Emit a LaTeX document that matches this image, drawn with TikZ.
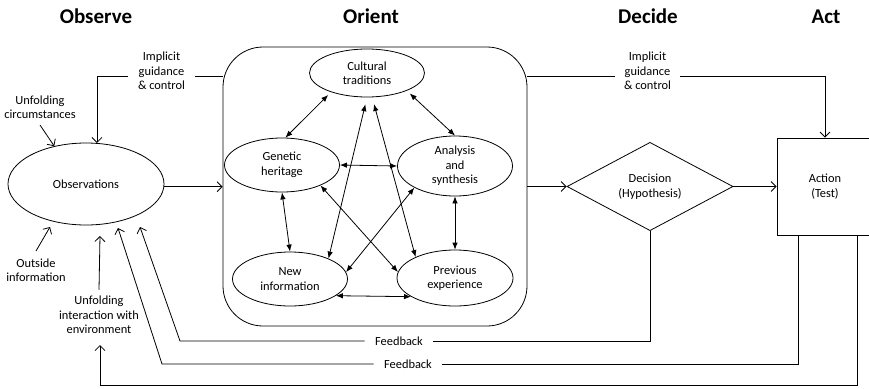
\documentclass[tikz,border=0pt]{standalone}
\usepackage{fontspec}
\setmainfont{Carlito}
\usetikzlibrary{arrows.meta,shapes.geometric,calc}
\begin{document}
\begin{tikzpicture}[x=1pt,y=-1pt,line width=0.8pt,
  lbl/.style={font=\fontsize{12.4}{14.5}\selectfont,align=center,inner sep=0pt},
  ttl/.style={font=\fontsize{21}{24}\selectfont\bfseries,anchor=base,inner sep=0pt},
  oval/.style={ellipse,draw,lbl},
  open/.style={-{Straight Barb[length=5pt,width=10pt]}},
  dbl/.style={{Latex[length=7pt,width=5.5pt]}-{Latex[length=7pt,width=5.5pt]}},
  gaplbl/.style={lbl,minimum height=12pt}]
\useasboundingbox (0,0) rectangle (869,388);
\clip (0,0) rectangle (869,388);

% titles
\node[ttl] (tObs) at (96,23) {Observe};
\node[ttl] (tOri) at (371,23) {Orient};
\node[ttl] (tDec) at (648,23) {Decide};
\node[ttl] (tAct) at (826,23) {Act};

% main nodes
\node[oval,minimum width=156,minimum height=82] (obs) at (86,184) {Observations};
\node[draw,rounded corners=40,minimum width=304,minimum height=279,inner sep=0pt] (orient) at (375,186.5) {};
\node[oval,minimum width=115,minimum height=48] (ct) at (367,73) {Cultural\\traditions};
\node[oval,minimum width=115,minimum height=54] (gh) at (282,165) {Genetic\\heritage};
\node[oval,minimum width=115,minimum height=60] (as) at (455,166) {Analysis\\and\\synthesis};
\node[oval,minimum width=115,minimum height=54] (ni) at (290,279) {New\\information};
\node[oval,minimum width=116,minimum height=56] (pe) at (455,278) {Previous\\experience};
\node[diamond,draw,lbl,minimum width=166,minimum height=81] (dec) at (650,186.5) {Decision\\(Hypothesis)};
\node[draw,lbl,minimum width=96,minimum height=97] (act) at (825,186.5) {Action\\(Test)};

% orient internal links
\draw[dbl,shorten <=4pt] (ct.208) -- (gh.83);
\draw[dbl,shorten <=4pt] (ct.336) -- (as.90);
\draw[dbl] (gh.east) -- (as.west);
\draw[dbl] (gh.270) -- (ni.90);
\draw[dbl] (as.270) -- (pe.90);
\draw[dbl] (ni.-20) -- (pe.203);
\draw[dbl,shorten <=7pt] (ct.270) -- (ni.28);
\draw[dbl,shorten <=7pt] (ct.282) -- (pe.152);
\draw[dbl] (gh.-28) -- (pe.174);
\draw[dbl] (as.208) -- (ni.7);

% main flow
\draw[open] (obs.-2) -- (obs.-2 -| orient.west);
\draw[open] (orient.east |- dec.west) -- (dec.west);
\draw[open] (dec.east) -- (act.west);

% implicit guidance
\coordinate (igy) at (0,76);
\node[lbl,minimum width=67] (igL) at (161.5,71) {Implicit\\guidance\\\& control};
\node[lbl,minimum width=65] (igR) at (647.5,71) {Implicit\\guidance\\\& control};
\draw (orient.west |- igy) -- (igL.east |- igy);
\draw[open] (igL.west |- igy) -| (obs.75);
\draw (orient.east |- igy) -- (igR.west |- igy);
\draw[open] (igR.east |- igy) -| (act.north);

% outside inputs
\node[lbl] (uc) at (40,107) {Unfolding\\circumstances};
\node[lbl] (oi) at (36,270) {Outside\\information};
\node[lbl] (ui) at (99,315) {Unfolding\\interaction with\\environment};
\coordinate (oiTip) at (50,227);
\coordinate (uiTip) at (100,236);
\draw[open] ([yshift=-6pt]uc.south) -- (obs.130);
\draw[open] ([yshift=7pt]oi.north) -- (oiTip);
\draw[open] ([yshift=6pt]ui.north) -- (uiTip);

% feedback loops
\node[gaplbl,minimum width=68] (fb1) at (399,341) {Feedback};
\node[gaplbl,minimum width=68] (fb2) at (408,364) {Feedback};
\coordinate (fc1) at (180,341);
\coordinate (ft1) at (140,227);
\coordinate (fc2) at (162,364);
\coordinate (ft2) at (118,228);
\coordinate (ax2) at (798,0);
\coordinate (ax3) at (857,0);
\coordinate (fc3) at (100,385);
\coordinate (ft3) at (100,345);
\draw (dec.south) |- (fb1.east);
\draw[open] (fb1.west) -- (fc1) -- (ft1);
\draw (act.south -| ax2) |- (fb2.east);
\draw[open] (fb2.west) -- (fc2) -- (ft2);
\draw[open] (act.south -| ax3) |- (fc3) -- (ft3);
\end{tikzpicture}
\end{document}
